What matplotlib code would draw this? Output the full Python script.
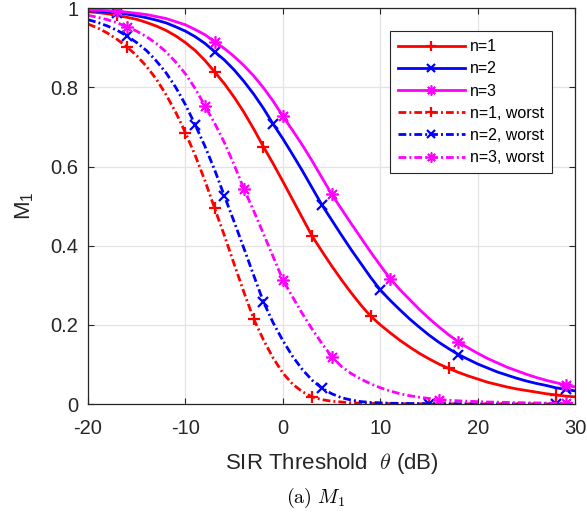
import numpy as np
import matplotlib
matplotlib.use("Agg")
import matplotlib.pyplot as plt
from matplotlib.lines import Line2D

plt.rcParams['font.family'] = ['Liberation Sans', 'DejaVu Sans']
plt.rcParams['mathtext.fontset'] = 'cm'
plt.rcParams['axes.unicode_minus'] = False

# SIR threshold grid (dB)
theta_db = np.arange(-20, 31)

# M1, one value per dB from -20 to 30
m1_n1 = [0.991, 0.989, 0.986, 0.982, 0.977, 0.972, 0.964, 0.955, 0.944, 0.930,
         0.913, 0.893, 0.868, 0.839, 0.809, 0.775, 0.737, 0.695, 0.650, 0.607,
         0.562, 0.516, 0.470, 0.424, 0.386, 0.349, 0.314, 0.281, 0.250, 0.222,
         0.200, 0.180, 0.161, 0.144, 0.128, 0.114, 0.101, 0.090, 0.080, 0.071,
         0.063, 0.055, 0.049, 0.043, 0.038, 0.034, 0.030, 0.026, 0.023, 0.020,
         0.018]
m1_n2 = [0.994, 0.992, 0.990, 0.988, 0.985, 0.981, 0.976, 0.970, 0.963, 0.953,
         0.942, 0.928, 0.911, 0.890, 0.869, 0.844, 0.815, 0.783, 0.747, 0.707,
         0.670, 0.630, 0.589, 0.546, 0.503, 0.465, 0.427, 0.390, 0.355, 0.320,
         0.288, 0.262, 0.238, 0.215, 0.194, 0.174, 0.156, 0.140, 0.125, 0.113,
         0.101, 0.091, 0.081, 0.073, 0.065, 0.058, 0.052, 0.047, 0.041, 0.037,
         0.033]
m1_n3 = [0.996, 0.995, 0.994, 0.992, 0.990, 0.987, 0.984, 0.979, 0.974, 0.966,
         0.958, 0.946, 0.933, 0.915, 0.898, 0.878, 0.855, 0.829, 0.799, 0.765,
         0.727, 0.691, 0.654, 0.614, 0.572, 0.530, 0.493, 0.456, 0.420, 0.384,
         0.350, 0.317, 0.289, 0.264, 0.239, 0.216, 0.195, 0.175, 0.157, 0.142,
         0.128, 0.115, 0.104, 0.093, 0.084, 0.075, 0.067, 0.060, 0.054, 0.048,
         0.043]
m1_n1_worst = [0.960, 0.950, 0.937, 0.921, 0.902, 0.880, 0.853, 0.821, 0.782, 0.737,
               0.685, 0.628, 0.564, 0.494, 0.425, 0.353, 0.282, 0.215, 0.162, 0.116,
               0.078, 0.050, 0.031, 0.018, 0.011, 0.007, 0.005, 0.003, 0.002, 0.0015,
               0.001, 0.001, 0.0008, 0.0007, 0.0006, 0.0005, 0.0005, 0.0004, 0.0004, 0.0003,
               0.0003, 0.0003, 0.0003, 0.0003, 0.0002, 0.0002, 0.0002, 0.0002, 0.0002, 0.0002,
               0.0002]
m1_n2_worst = [0.971, 0.964, 0.955, 0.944, 0.930, 0.913, 0.893, 0.867, 0.837, 0.800,
               0.756, 0.705, 0.651, 0.591, 0.525, 0.460, 0.393, 0.325, 0.258, 0.205,
               0.160, 0.120, 0.087, 0.060, 0.040, 0.026, 0.016, 0.010, 0.006, 0.004,
               0.003, 0.002, 0.0015, 0.0012, 0.001, 0.0008, 0.0007, 0.0006, 0.0005, 0.0005,
               0.0004, 0.0004, 0.0004, 0.0004, 0.0003, 0.0003, 0.0003, 0.0003, 0.0003, 0.0003,
               0.0003]
m1_n3_worst = [0.982, 0.977, 0.971, 0.963, 0.953, 0.942, 0.928, 0.911, 0.890, 0.864,
               0.834, 0.797, 0.753, 0.709, 0.660, 0.604, 0.543, 0.488, 0.430, 0.372,
               0.313, 0.270, 0.228, 0.189, 0.153, 0.120, 0.095, 0.077, 0.063, 0.051,
               0.041, 0.033, 0.026, 0.021, 0.017, 0.014, 0.011, 0.0095, 0.008, 0.007,
               0.006, 0.005, 0.0045, 0.004, 0.0035, 0.003, 0.0027, 0.0024, 0.0021, 0.0019,
               0.0017]

# where the markers sit (theta in dB)
mk_n1 = [-17, -7, -2, 3, 9, 17, 28]
mk_n2 = [-17, -7, -1, 4, 10, 18, 29]
mk_n3 = [-17, -7, 0, 5, 11, 18, 29]
mk_n1_worst = [-16, -10, -7, -3, 3, 15, 28]
mk_n2_worst = [-16, -9, -6, -2, 4, 15, 28]
mk_n3_worst = [-16, -8, -4, 0, 5, 16, 29]

labels = ['n=1', 'n=2', 'n=3', 'n=1, worst', 'n=2, worst', 'n=3, worst']

asterisk = (8, 2, 0)
dashdot = (2.8, 1.1, 0.7, 1.1)
series = [
    (m1_n1, mk_n1, 'red', '+', 9, '-'),
    (m1_n2, mk_n2, 'blue', 'x', 7, '-'),
    (m1_n3, mk_n3, 'magenta', asterisk, 9, '-'),
    (m1_n1_worst, mk_n1_worst, 'red', '+', 9, dashdot),
    (m1_n2_worst, mk_n2_worst, 'blue', 'x', 7, dashdot),
    (m1_n3_worst, mk_n3_worst, 'magenta', asterisk, 9, dashdot),
]

fig = plt.figure(figsize=(5.87, 5.14), dpi=100)
ax = fig.add_axes([0.150, 0.214, 0.830, 0.770])

handles = []
for (vals, mk, col, marker, ms, ls), lab in zip(series, labels):
    idx = [int(np.argmin(np.abs(theta_db - m))) for m in mk]
    mew = 1.2 if marker is asterisk else 1.6
    kw = dict(color=col, lw=2, marker=marker, ms=ms, mew=mew, markevery=idx)
    if ls == '-':
        ax.plot(theta_db, vals, ls='-', **kw)
        h = Line2D([], [], color=col, lw=2, ls='-', marker=marker, ms=ms * 0.8, mew=mew)
    else:
        ax.plot(theta_db, vals, dashes=ls, **kw)
        h = Line2D([], [], color=col, lw=2, dashes=ls, marker=marker, ms=ms * 0.8, mew=mew)
    handles.append(h)

ax.set_xlim(-20, 30)
ax.set_ylim(0, 1)
ax.set_xticks([-20, -10, 0, 10, 20, 30])
ax.set_yticks([0, 0.2, 0.4, 0.6, 0.8, 1])
ax.set_yticklabels(['0', '0.2', '0.4', '0.6', '0.8', '1'])
ax.grid(True, color='#e3e3e3', lw=0.9)
ax.set_axisbelow(True)
ax.tick_params(direction='in', top=True, right=True, length=4, width=0.8,
               labelsize=14.5, colors='#262626')
ax.tick_params(axis='x', pad=11)
ax.tick_params(axis='y', pad=7)
for s in ax.spines.values():
    s.set_color('#262626')
    s.set_linewidth(0.9)

ax.set_xlabel(r'SIR Threshold  $\theta$ (dB)', fontsize=16, color='#262626', labelpad=9)
ax.set_ylabel(r'$\mathregular{M_1}$', fontsize=16, color='#262626', labelpad=10)

leg = ax.legend(handles, labels, loc='upper right', bbox_to_anchor=(0.953, 0.942),
                borderaxespad=0, fontsize=11.5, numpoints=1, handlelength=4.2,
                handletextpad=0.35, labelspacing=0.45, fancybox=False,
                framealpha=1, edgecolor='#262626', borderpad=0.5)
leg.get_frame().set_linewidth(0.8)

fig.text(0.537, 0.022, r'$\mathrm{(a)}\ M_1$', fontsize=14.5, ha='center', va='baseline')

fig.savefig('out.png', dpi=100)
